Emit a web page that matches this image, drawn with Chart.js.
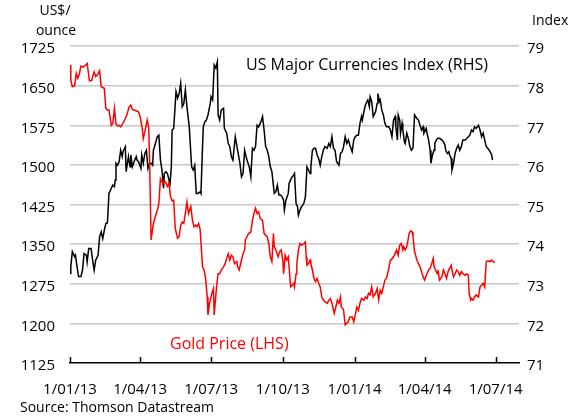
<!DOCTYPE html>
<html>
<head>
<meta charset="utf-8">
<script src="https://cdn.jsdelivr.net/npm/chart.js@4/dist/chart.umd.min.js"></script>
<style>
html,body{margin:0;padding:0;background:#fff;}
#wrap{width:575px;height:417px;position:relative;}
</style>
</head>
<body>
<div id="wrap"><canvas id="c" width="575" height="417"></canvas></div>
<script>
// Days since 1 Jan 2013
const goldDays = [0,1,3,6,8,10,12,14,17,20,22,25,28,29,31,33,35,38,40,44,46,48,50,53,55,57,59,61,63,65,68,70,72,74,76,78,80,82,86,88,90,92,93,94,97,99,101,102,103,104,107,109,112,114,116,119,121,123,125,127,129,131,133,135,138,140,142,144,146,148,150,152,155,157,159,161,163,165,167,170,172,174,176,177,179,182,184,185,188,190,192,194,197,199,201,203,205,207,209,211,214,215,217,220,222,224,225,227,229,232,234,236,238,240,242,244,247,249,251,253,255,257,259,261,262,264,267,269,271,273,274,276,278,280,281,283,285,287,288,290,291,293,295,297,300,302,303,304,306,308,309,311,313,315,317,319,321,323,325,327,330,332,334,336,338,339,341,343,345,347,348,350,351,353,355,357,359,362,364,366,368,370,372,374,377,379,381,383,385,387,389,392,394,396,398,400,402,404,406,409,411,412,415,417,419,421,423,425,427,428,430,432,434,435,437,439,440,442,445,447,449,451,453,455,457,458,460,462,464,466,467,469,471,472,474,477,479,481,483,485,487,489,491,492,494,496,498,500,502,504,507,509,511,512,514,515,517,519,521,524,526,528,530,532,534,536,539,541,543,545];
const goldPrices = [1689,1661,1648,1650,1673,1664,1672,1687,1685,1689,1692,1659,1660,1667,1676,1667,1670,1678,1648,1645,1607,1604,1604,1575,1579,1607,1577,1574,1575,1572,1579,1585,1591,1600,1610,1613,1605,1604,1602,1600,1591,1575,1566,1550,1569,1585,1570,1515,1440,1358,1389,1400,1414,1427,1474,1465,1470,1466,1459,1465,1440,1432,1433,1380,1361,1364,1386,1392,1389,1408,1430,1408,1421,1396,1383,1386,1383,1389,1377,1307,1301,1285,1250,1216,1238,1257,1266,1216,1269,1294,1294,1301,1307,1313,1323,1332,1320,1329,1326,1313,1317,1307,1301,1320,1332,1339,1358,1364,1370,1373,1395,1408,1418,1408,1411,1399,1395,1370,1367,1364,1351,1326,1317,1370,1345,1339,1326,1336,1339,1320,1294,1329,1320,1326,1307,1269,1272,1276,1269,1294,1313,1339,1351,1348,1351,1354,1326,1310,1313,1320,1313,1301,1285,1279,1285,1276,1269,1250,1244,1241,1238,1244,1247,1238,1225,1219,1231,1244,1238,1250,1231,1228,1225,1197,1200,1203,1212,1212,1203,1216,1231,1225,1238,1247,1244,1250,1247,1257,1254,1269,1250,1257,1266,1244,1263,1257,1269,1282,1285,1304,1320,1320,1326,1332,1339,1329,1348,1351,1339,1345,1339,1345,1361,1370,1375,1373,1364,1336,1320,1313,1307,1298,1288,1282,1291,1294,1301,1304,1313,1323,1307,1301,1294,1301,1282,1288,1301,1294,1285,1298,1304,1310,1294,1288,1294,1301,1298,1291,1298,1294,1291,1294,1291,1257,1244,1247,1244,1250,1254,1250,1269,1272,1276,1269,1317,1318,1317,1320,1317,1315];

const indexDays = [0,1,3,6,7,9,11,14,16,18,21,22,24,27,29,31,33,36,38,40,42,44,46,48,50,53,55,57,58,59,61,63,65,67,68,71,72,75,77,78,80,83,85,86,88,91,92,94,96,98,100,102,104,106,107,109,112,114,116,118,120,121,123,125,127,128,130,131,133,134,136,138,140,142,144,146,148,150,153,154,156,158,160,161,162,164,167,168,170,171,173,175,177,180,181,183,185,187,189,190,192,194,197,198,201,203,205,207,209,212,215,218,220,222,224,227,230,232,234,236,238,240,242,245,247,249,251,253,255,257,259,262,264,266,268,270,272,274,275,277,280,281,283,285,287,288,290,292,293,295,297,300,302,304,306,308,309,311,313,315,317,319,321,323,325,327,330,332,334,336,338,340,342,345,347,349,351,353,355,357,359,362,364,366,368,370,372,374,375,377,379,381,382,384,385,387,389,392,394,395,397,398,400,402,404,406,409,411,413,415,417,418,420,421,423,424,426,427,429,430,432,434,436,438,440,442,445,447,449,451,453,454,457,458,460,462,463,465,467,468,470,472,474,477,479,481,482,484,486,487,489,490,492,494,496,498,500,502,504,507,509,511,513,515,517,519,521,524,526,528,530,532,534,536,539,541,542];
const indexValues = [73.26,73.43,73.81,73.68,73.72,73.43,73.18,73.18,73.34,73.76,73.72,73.55,73.89,73.89,73.6,73.34,73.6,73.72,74.19,74.31,74.14,74.35,74.52,74.54,75.28,75.41,75.49,75.45,75.62,76.04,75.99,76.08,76.37,76.21,76.33,76.46,75.83,76.21,75.95,76.25,75.95,76.12,76.21,76.12,76.08,75.91,76.25,76.04,76.29,76.37,75.91,76.04,76.04,75.99,76.37,76.5,76.71,76.75,76.12,75.87,75.41,75.78,75.83,75.78,75.62,75.45,75.95,76.88,76.92,77.22,77.85,77.68,77.8,78.06,77.47,77.55,77.89,77.47,76.96,76.63,75.95,75.87,75.99,75.62,75.28,75.28,75.32,75.28,76.46,76.96,77.09,77.13,77.26,77.55,77.72,77.64,78.52,78.44,78.6,77.26,77.13,77.38,77.43,76.92,76.8,76.54,76.46,76.21,76.12,76.71,76.37,76.04,75.7,75.78,76.37,76.12,75.95,75.7,76.42,76.37,76.46,77.0,76.96,77.09,77.22,76.88,76.46,76.37,76.21,75.95,75.83,75.28,75.32,75.49,75.24,75.24,75.2,75.11,74.86,75.11,75.28,75.53,75.62,75.7,75.74,75.78,75.03,74.94,74.73,74.86,74.94,75.03,75.2,75.95,75.87,75.78,75.95,76.37,76.42,76.42,76.25,76.16,75.99,76.21,76.37,76.46,76.42,76.54,76.46,76.71,76.42,76.37,76.08,75.99,76.29,76.33,76.46,76.71,76.54,76.63,76.5,76.33,76.63,76.71,76.75,76.75,77.05,77.22,77.13,77.34,77.51,77.6,77.64,77.47,77.72,77.6,77.22,77.34,77.55,77.8,77.6,77.64,77.38,77.26,77.05,76.96,76.96,76.88,76.71,77.13,77.22,76.96,76.63,77.26,77.13,76.8,77.05,76.88,76.58,76.54,76.8,76.67,76.46,76.37,76.42,77.26,77.17,77.13,77.0,76.88,76.96,76.8,76.92,76.8,76.63,76.37,76.04,76.25,76.37,76.54,76.63,76.67,76.67,76.63,76.58,76.5,76.37,76.29,76.33,76.25,76.16,75.87,76.04,76.29,76.42,76.5,76.37,76.46,76.63,76.63,76.67,76.71,76.75,76.88,76.84,76.96,76.92,77.0,76.88,76.71,76.8,76.63,76.46,76.42,76.33,76.25,76.12];

const quarterDays = [0,90,181,273,365,455,546];
const quarterLabels = ['1/01/13','1/04/13','1/07/13','1/10/13','1/01/14','1/04/14','1/07/14'];
const goldTicks = [1125,1200,1275,1350,1425,1500,1575,1650,1725];
const indexTicks = [71,72,73,74,75,76,77,78,79];

const FONT = "'Open Sans', sans-serif";

const textPlugin = {
  id: 'texts',
  afterDraw(chart) {
    const ctx = chart.ctx;
    const xs = chart.scales.x;
    const area = chart.chartArea;
    ctx.save();
    // inner tick marks on the bottom axis
    ctx.strokeStyle = '#000';
    ctx.lineWidth = 1.5;
    quarterDays.forEach(d => {
      const px = Math.round(xs.getPixelForValue(d)) + 0.5;
      ctx.beginPath();
      ctx.moveTo(px, area.bottom);
      ctx.lineTo(px, area.bottom - 6);
      ctx.stroke();
    });
    ctx.textBaseline = 'middle';
    ctx.fillStyle = '#000';
    ctx.font = '14px ' + FONT;
    ctx.textAlign = 'center';
    ctx.fillText('US$/', 55, 11);
    ctx.fillText('ounce', 56, 31);
    ctx.textAlign = 'left';
    ctx.fillText('Index', 532, 21);
    ctx.fillText('Source: Thomson Datastream', 20, 408);
    ctx.font = '16px ' + FONT;
    ctx.fillText('US Major Currencies Index (RHS)', 246, 65);
    ctx.fillStyle = '#ff0000';
    ctx.fillText('Gold Price (LHS)', 170, 344);
    ctx.restore();
  }
};

new Chart(document.getElementById('c'), {
  type: 'line',
  data: {
    datasets: [
      {
        label: 'Gold Price (LHS)',
        data: goldDays.map((d, i) => ({x: d, y: goldPrices[i]})),
        borderColor: '#ff0000',
        borderWidth: 1.5,
        pointRadius: 0,
        tension: 0,
        yAxisID: 'y'
      },
      {
        label: 'US Major Currencies Index (RHS)',
        data: indexDays.map((d, i) => ({x: d, y: indexValues[i]})),
        borderColor: '#000000',
        borderWidth: 1.5,
        pointRadius: 0,
        tension: 0,
        yAxisID: 'y1'
      }
    ]
  },
  options: {
    responsive: false,
    animation: false,
    layout: {padding: {top: 46, right: 0, left: 0, bottom: 0}},
    plugins: {legend: {display: false}, tooltip: {enabled: false}},
    scales: {
      x: {
        type: 'linear',
        min: 0,
        max: 576,
        afterBuildTicks: s => { s.ticks = quarterDays.map(v => ({value: v})); },
        afterFit: s => { s.height = 54; },
        ticks: {
          color: '#000',
          font: {family: FONT, size: 15},
          padding: 18,
          maxRotation: 0,
          autoSkip: false,
          callback: v => quarterLabels[quarterDays.indexOf(v)]
        },
        grid: {display: false, drawTicks: false},
        border: {display: true, color: '#000', width: 1.5}
      },
      y: {
        position: 'left',
        min: 1125,
        max: 1725,
        afterBuildTicks: s => { s.ticks = goldTicks.map(v => ({value: v})); },
        afterFit: s => { s.width = 70; },
        ticks: {color: '#000', font: {family: FONT, size: 15}, padding: 15, labelOffset: 3, callback: v => String(v)},
        grid: {
          drawTicks: false,
          color: c => (c.tick && c.tick.value === 1125) ? 'rgba(0,0,0,0)' : '#c8c8c8',
          lineWidth: 1.5
        },
        border: {display: false}
      },
      y1: {
        position: 'right',
        min: 71,
        max: 79,
        afterBuildTicks: s => { s.ticks = indexTicks.map(v => ({value: v})); },
        afterFit: s => { s.width = 56; },
        ticks: {color: '#000', font: {family: FONT, size: 15}, padding: 8, labelOffset: 3, callback: v => String(v)},
        grid: {display: false, drawTicks: false},
        border: {display: false}
      }
    }
  },
  plugins: [textPlugin]
});
</script>
</body>
</html>
